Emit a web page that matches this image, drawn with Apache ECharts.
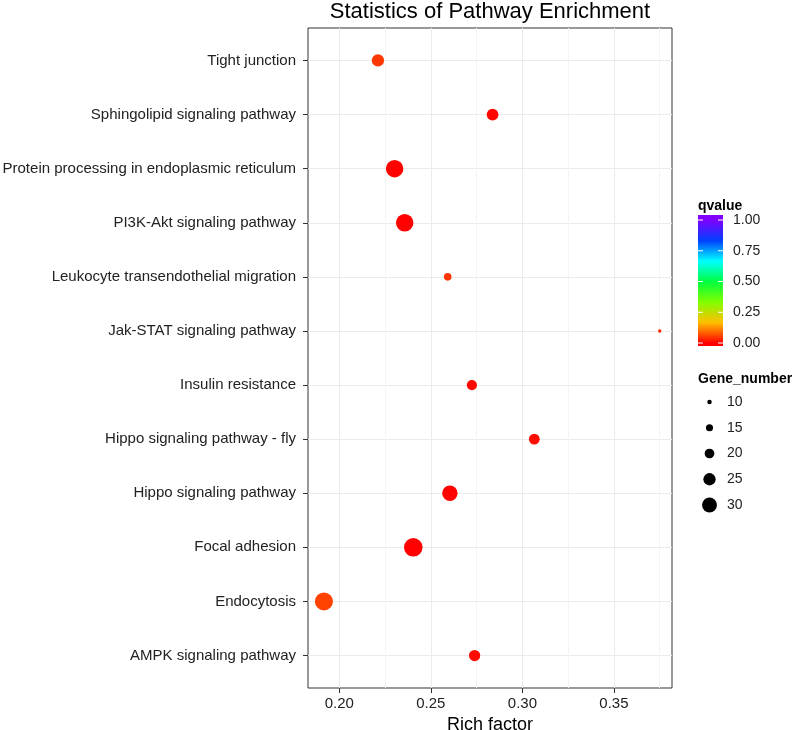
<!DOCTYPE html>
<html><head><meta charset="utf-8">
<script src="https://cdn.jsdelivr.net/npm/echarts@6/dist/echarts.min.js"></script>
<style>html,body{margin:0;padding:0;background:#fff}#c{width:797px;height:730px}</style>
</head><body><div id="c"></div>
<script>
// ---- data (bottom to top, as in the reference) ----
const pathways = ['AMPK signaling pathway','Endocytosis','Focal adhesion','Hippo signaling pathway','Hippo signaling pathway - fly','Insulin resistance','Jak-STAT signaling pathway','Leukocyte transendothelial migration','PI3K-Akt signaling pathway','Protein processing in endoplasmic reticulum','Sphingolipid signaling pathway','Tight junction'];
const richFactor = [0.2739,0.1916,0.2404,0.2604,0.3065,0.2724,0.3750,0.2592,0.2357,0.2302,0.2837,0.2211];
const qvalue     = [0.008,0.058,0.001,0.003,0.010,0.006,0.035,0.045,0.001,0.002,0.005,0.048];
const geneNumber = [23,36,37,31,22,21,8,16,35,35,24,25];
const xTicks = [0.20,0.25,0.30,0.35];
const xMinorTicks = [0.225,0.275,0.325,0.375];
const qTicks = [0,0.25,0.5,0.75,1];
const geneTicks = [10,15,20,25,30];

const FONT = 'Liberation Sans, Arial, Helvetica, sans-serif';
const colorStops = ['#FF0000','#FFBF00','#80FF00','#00FF40','#00FFFF','#0040FF','#8000FF'];
function sizeOf(g){ return Math.max(2.5, 0.52*g - 0.7); }

const data = pathways.map((p,i)=>[richFactor[i], i, qvalue[i], geneNumber[i], p]);

// ---- legend geometry ----
const cb = {x:698, y:215, w:25, h:131, v0:343, v1:220};
const gradStops = colorStops.map((c,i)=>{
  const q = i/(colorStops.length-1);
  const yy = cb.v0 - q*(cb.v0-cb.v1);
  return {offset:(cb.y+cb.h-yy)/cb.h, color:c};
});
gradStops.unshift({offset:0,color:colorStops[0]});
gradStops.push({offset:1,color:colorStops[colorStops.length-1]});

const graphics = [];
graphics.push({type:'text', x:490, y:12, style:{text:'Statistics of Pathway Enrichment', font:'22px '+FONT, fill:'#000', align:'center', verticalAlign:'middle'}});
graphics.push({type:'text', x:698, y:206, style:{text:'qvalue', font:'bold 14px '+FONT, fill:'#000', verticalAlign:'middle'}});
graphics.push({type:'rect', shape:{x:cb.x, y:cb.y, width:cb.w, height:cb.h},
  style:{fill:new echarts.graphic.LinearGradient(0,1,0,0,gradStops)}});
qTicks.forEach(v=>{
  const yy = cb.v0 - v*(cb.v0-cb.v1);
  graphics.push({type:'line', shape:{x1:cb.x, y1:yy, x2:cb.x+5, y2:yy}, style:{stroke:'#fff', lineWidth:1}});
  graphics.push({type:'line', shape:{x1:cb.x+cb.w-5, y1:yy, x2:cb.x+cb.w, y2:yy}, style:{stroke:'#fff', lineWidth:1}});
  graphics.push({type:'text', x:733, y:yy, style:{text:v.toFixed(2), font:'14px '+FONT, fill:'#222', verticalAlign:'middle'}});
});
graphics.push({type:'text', x:698, y:379, style:{text:'Gene_number', font:'bold 14px '+FONT, fill:'#000', verticalAlign:'middle'}});
geneTicks.forEach((g,i)=>{
  const yy = 402 + i*25.75;
  graphics.push({type:'circle', shape:{cx:709.5, cy:yy, r:sizeOf(g)/2}, style:{fill:'#000'}});
  graphics.push({type:'text', x:727, y:yy, style:{text:String(g), font:'14px '+FONT, fill:'#222', verticalAlign:'middle'}});
});

const chart = echarts.init(document.getElementById('c'), null, {renderer:'canvas'});
chart.setOption({
  backgroundColor:'#fff',
  animation:false,
  textStyle:{fontFamily:FONT},
  grid:{left:308, right:125, top:28, bottom:42, show:true, borderColor:'#333', borderWidth:1, backgroundColor:'transparent', containLabel:false, outerBoundsMode:'none'},
  xAxis:[{
    type:'value', min:0.1829, max:0.3817,
    name:'Rich factor', nameLocation:'middle', nameGap:25,
    nameTextStyle:{fontSize:18, color:'#000', fontFamily:FONT},
    axisLine:{show:false, onZero:false},
    axisTick:{show:true, length:5, lineStyle:{color:'#333'}, customValues:xTicks},
    axisLabel:{customValues:xTicks, fontSize:15, color:'#222', margin:8, formatter:v=>v.toFixed(2), fontFamily:FONT},
    splitLine:{show:true, lineStyle:{color:'#EBEBEB', width:1}}
  },{
    type:'value', min:0.1829, max:0.3817, position:'bottom',
    axisLine:{show:false, onZero:false}, axisLabel:{show:false},
    axisTick:{show:false, customValues:xMinorTicks},
    splitLine:{show:true, lineStyle:{color:'#F4F4F4', width:1}}
  }],
  yAxis:{
    type:'value', min:-0.6, max:11.6,
    axisLine:{show:false, onZero:false},
    axisTick:{show:true, length:5, lineStyle:{color:'#333'}, customValues:pathways.map((p,i)=>i)},
    axisLabel:{customValues:pathways.map((p,i)=>i), fontSize:15, color:'#222', margin:12, fontFamily:FONT,
      formatter:v=>pathways[Math.round(v)]},
    splitLine:{show:true, lineStyle:{color:'#EBEBEB', width:1}}
  },
  visualMap:{type:'continuous', show:false, min:0, max:1, dimension:2, seriesIndex:0,
    inRange:{color:colorStops}},
  series:[{
    type:'scatter', xAxisIndex:0, yAxisIndex:0,
    data:data,
    symbol:'circle',
    symbolSize:(val)=>sizeOf(val[3]),
    itemStyle:{opacity:1},
    z:5
  }],
  graphic:graphics
});
</script>
</body></html>
